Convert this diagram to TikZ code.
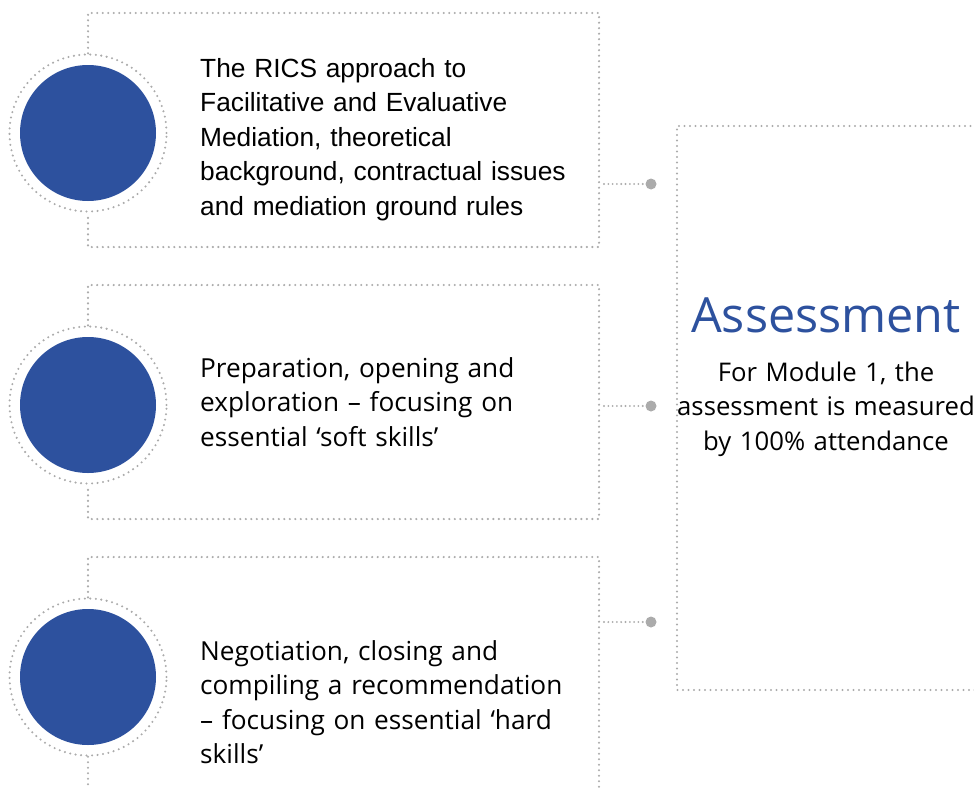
\documentclass[tikz,border=0pt]{standalone}
\usepackage{fontspec}
\setmainfont{Open Sans}
\newfontfamily\arialfont{Liberation Sans}
\definecolor{dotgray}{HTML}{ABABAB}
\definecolor{mblue}{HTML}{2D519E}
\begin{document}
\begin{tikzpicture}[x=1pt,y=-1pt,
  dotline/.style={draw=dotgray, line width=2.3pt, line cap=round, dash pattern=on 0pt off 5.5pt},
  condot/.style={draw=dotgray, line width=2.1pt, line cap=round, dash pattern=on 0pt off 4.3pt},
  disc/.style={circle, fill=mblue, minimum size=136pt, inner sep=0pt},
  ring/.style={circle, dotline, minimum size=157pt, inner sep=0pt},
  enddot/.style={circle, fill=dotgray, minimum size=11pt, inner sep=0pt},
  bodytext/.style={anchor=base west, inner sep=0pt, text width=440pt, align=left, font=\fontsize{26.2}{34.6}\selectfont},
  centertext/.style={anchor=base, inner sep=0pt, text width=340pt, align=center, font=\fontsize{25.7}{34.6}\selectfont}
]
\useasboundingbox (0,0) rectangle (974,787);

% panel 1
\node[ring] (r1) at (88,133) {};
\node[disc] (c1) at (88,133) {};
\draw[dotline] (r1.north) -- (88,13) -- (599,13) -- (599,247) -- (88,247) -- (r1.south);
\node[bodytext, font=\arialfont\fontsize{26.3}{34.6}\selectfont] (t1) at (200,77)
  {The RICS approach to\\Facilitative and Evaluative\\Mediation, theoretical\\background, contractual issues\\and mediation ground rules};

% panel 2
\node[ring] (r2) at (88,405) {};
\node[disc] (c2) at (88,405) {};
\draw[dotline] (r2.north) -- (88,285) -- (599,285) -- (599,519) -- (88,519) -- (r2.south);
\node[bodytext] (t2) at (200,377)
  {Preparation, opening and\\exploration – focusing on\\essential ‘soft skills’};

% panel 3
\node[ring] (r3) at (88,677) {};
\node[disc] (c3) at (88,677) {};
\draw[dotline] (r3.north) -- (88,557) -- (599,557) -- (599,790);
\draw[dotline] (r3.south) -- (88,790);
\node[bodytext] (t3) at (200,660)
  {Negotiation, closing and\\compiling a recommendation\\– focusing on essential ‘hard\\skills’};

% assessment box
\draw[dotline] (976,126) -- (677,126) -- (677,690) -- (976,690);
\node[anchor=base, inner sep=0pt, text=mblue, font=\fontsize{48.5}{56}\selectfont] (ah) at (826,332) {Assessment};
\node[centertext] (at) at (826,381)
  {For Module 1, the\\assessment is measured\\by 100\% attendance};

% connectors
\coordinate (s1) at (604,184);
\coordinate (s2) at (604,406);
\coordinate (s3) at (604,622);
\node[enddot] (d1) at (651,184) {};
\node[enddot] (d2) at (651,406) {};
\node[enddot] (d3) at (651,622) {};
\draw[condot] (s1) -- (d1);
\draw[condot] (s2) -- (d2);
\draw[condot] (s3) -- (d3);
\end{tikzpicture}
\end{document}
